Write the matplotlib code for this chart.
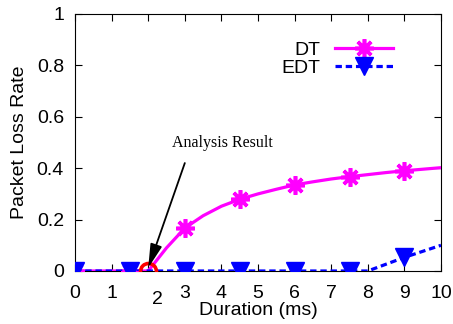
import matplotlib
matplotlib.use('Agg')
import matplotlib.pyplot as plt
import matplotlib.transforms as mtransforms

plt.rcParams['font.family'] = ['Liberation Sans', 'DejaVu Sans']

# DT curve, markers every 1.5 ms
dt_x = [0, 1.5, 2.0, 2.5, 3.0, 3.5, 4.0, 4.5, 5.0, 5.5, 6.0, 6.5, 7.0, 7.5, 8.0, 8.5, 9.0, 9.5, 10.0]
dt_y = [0, 0, 0, 0.09, 0.167, 0.215, 0.252, 0.279, 0.300, 0.318, 0.335, 0.347, 0.358, 0.367, 0.375, 0.383, 0.390, 0.396, 0.402]
dt_marks = [0, 1, 4, 7, 10, 13, 16]

# EDT curve
edt_x = [0, 1.5, 3.0, 4.5, 6.0, 7.5, 8.0, 9.0, 10.0]
edt_y = [0, 0, 0, 0, 0, 0, 0, 0.053, 0.10]
edt_marks = [0, 1, 2, 3, 4, 5, 7]

# analysis result point
res_x = [2.0]
res_y = [0.0]

xticks = [0, 1, 2, 3, 4, 5, 6, 7, 8, 9, 10]
yticks = [0, 0.2, 0.4, 0.6, 0.8, 1]
ytick_labels = ['0', '0.2', '0.4', '0.6', '0.8', '1']

fig = plt.figure(figsize=(4.53, 3.24), dpi=100)
ax = fig.add_axes([0.1656, 0.1636, 0.8079, 0.7932])

ax.plot(dt_x, dt_y, color='#ff00ff', lw=2.3, marker=(8, 2, 0), ms=13.5, mew=2.6,
        markevery=dt_marks, label='DT', zorder=3)
ax.plot(edt_x, edt_y, color='#0000ff', lw=2.3, ls=(0, (2.0, 1.2)), marker='v', ms=13,
        markevery=edt_marks, label='EDT', zorder=4)
ax.plot(res_x, res_y, ls='none', marker='o', ms=11.5, mfc='none', mec='#ff0000', mew=2.6, zorder=5)

ax.annotate('', xy=(2.0, 0.012), xytext=(3.0, 0.42),
            arrowprops=dict(arrowstyle='-|>,head_length=1.45,head_width=0.36', color='black', lw=1.3,
                            shrinkA=0, shrinkB=0), zorder=6)
ax.text(4.02, 0.498, 'Analysis Result', ha='center', va='center', fontsize=11.5,
        family=['Liberation Serif', 'DejaVu Serif'])

ax.set_xlim(0, 10)
ax.set_ylim(0, 1)
ax.set_xticks(xticks)
ax.set_yticks(yticks)
ax.set_yticklabels(ytick_labels)
ax.tick_params(direction='in', length=5, width=0.8, top=True, right=True, labelsize=14)
ax.tick_params(axis='x', pad=10)
ax.tick_params(axis='y', pad=8)

# the "2" label is nudged right/down in the original so it clears the circle
lab2 = ax.get_xticklabels()[2]
lab2.set_transform(lab2.get_transform() + mtransforms.ScaledTranslation(9 / 100, -6 / 100, fig.dpi_scale_trans))

ax.set_xlabel('Duration (ms)', fontsize=14, labelpad=-4)
ax.set_ylabel('Packet Loss Rate', fontsize=14, labelpad=6)

ax.legend(loc='upper right', bbox_to_anchor=(0.869, 0.895), frameon=False, fontsize=14,
          markerfirst=False, handlelength=3.0, handletextpad=0.75, borderpad=0,
          borderaxespad=0, labelspacing=0.05, numpoints=1)

fig.savefig('out.png', dpi=100)
